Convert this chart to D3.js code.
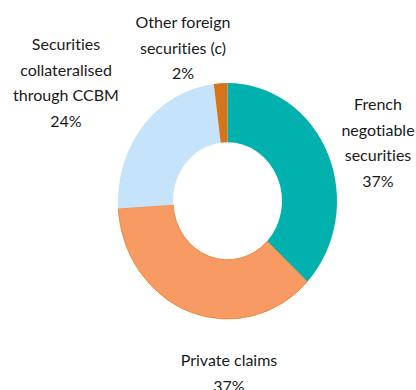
<!DOCTYPE html>
<html>
<head>
<meta charset="utf-8">
<script src="https://cdn.jsdelivr.net/npm/d3@7"></script>
<style>
  html, body { margin: 0; padding: 0; background: #fff; }
  svg { display: block; }
  text { font-family: "Lato", "Open Sans", sans-serif; font-size: 16px; fill: #1a1a1a;
         font-variant-ligatures: none; font-feature-settings: "liga" 0; }
</style>
</head>
<body>
<svg id="chart" width="416" height="390"></svg>
<script>
// Breakdown of collateral, shares in per cent
const categories = [
  "French negotiable securities",
  "Private claims",
  "Securities collateralised through CCBM",
  "Other foreign securities (c)"
];
const shares = [37, 37, 24, 2];
const labelLines = [
  ["French", "negotiable", "securities"],
  ["Private claims"],
  ["Securities", "collateralised", "through CCBM"],
  ["Other foreign", "securities (c)"]
];

const colors = ["#00b1ad", "#f79a63", "#c6e3fc", "#d4741b"];
const strokes = ["none", "#e0822c", "none", "none"];

// label block anchors (centre x, first baseline y)
const labelPos = [
  { x: 378, y: 110 },
  { x: 229, y: 366 },
  { x: 66,  y: 50 },
  { x: 183, y: 28 }
];
const lineGap = 25.5;

const svg = d3.select("#chart");
const cx = 227.5, cy = 201;
const outerR = 109.5, innerR = 54.5;
const yStretch = 1.078;

const data = categories.map((c, i) => ({ name: c, value: shares[i], i }));

const pie = d3.pie().sort(null).value(d => d.value);
const arc = d3.arc().innerRadius(innerR).outerRadius(outerR);

const g = svg.append("g")
  .attr("transform", `translate(${cx},${cy}) scale(1,${yStretch})`);

g.selectAll("path")
  .data(pie(data))
  .join("path")
  .attr("d", arc)
  .attr("fill", d => colors[d.data.i])
  .attr("stroke", d => strokes[d.data.i])
  .attr("stroke-width", 0.8);

const labels = svg.append("g");
data.forEach((d, i) => {
  const lines = labelLines[i].concat([d.value + "%"]);
  const t = labels.append("text")
    .attr("text-anchor", "middle");
  lines.forEach((ln, k) => {
    t.append("tspan")
      .attr("x", labelPos[i].x)
      .attr("y", labelPos[i].y + k * lineGap)
      .text(ln);
  });
});
</script>
</body>
</html>
